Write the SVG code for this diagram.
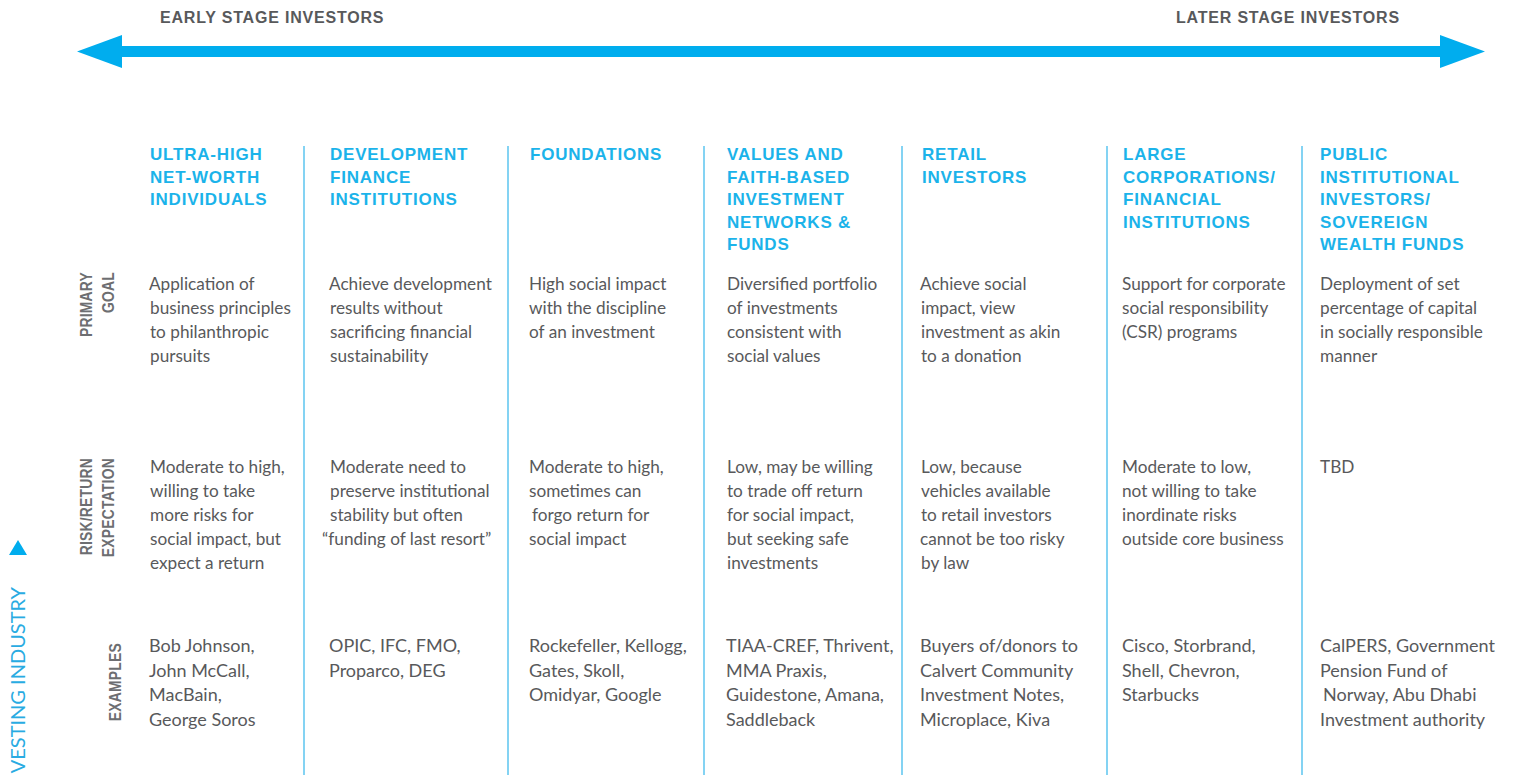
<svg xmlns="http://www.w3.org/2000/svg" width="1514" height="775" viewBox="0 0 1514 775">
<style>
.top{font-family:"Liberation Sans",Arial,sans-serif;font-weight:bold;font-size:16px;letter-spacing:0.8px;fill:#58595B}
.hdr{font-family:"Liberation Sans",Arial,sans-serif;font-weight:bold;font-size:17px;letter-spacing:0.8px;fill:#1BB3EA}
.body{font-family:Lato,"Open Sans",sans-serif;font-size:17.2px;fill:#58595B}
.ex{font-family:Lato,"Open Sans",sans-serif;font-size:18px;fill:#58595B}
.rowlbl{font-family:"Liberation Sans",Arial,sans-serif;font-weight:bold;font-size:16.5px;letter-spacing:0.3px;fill:#6D6E71}
.side{font-family:Lato,"Open Sans",sans-serif;font-size:20px;fill:#29ABE2}
.div{stroke:#5BC4EF;stroke-width:1.5}
</style>
<defs>
<marker id="head" viewBox="0 0 45 33" refX="0" refY="16.5" markerWidth="45" markerHeight="33" markerUnits="userSpaceOnUse" orient="auto-start-reverse">
<path d="M0,0 L45,16.5 L0,33 Z" fill="#00ADEE"/>
</marker>
</defs>
<rect width="1514" height="775" fill="#FFFFFF"/>

<g id="connectors">
<line x1="122" y1="51.5" x2="1440" y2="51.5" stroke="#00ADEE" stroke-width="11" marker-start="url(#head)" marker-end="url(#head)"/>
</g>

<g id="stage-labels">
<text class="top" x="160" y="23">EARLY STAGE INVESTORS</text>
<text class="top" x="1176" y="23">LATER STAGE INVESTORS</text>
</g>

<g id="dividers">
<line class="div" x1="304" y1="146" x2="304" y2="775"/>
<line class="div" x1="508" y1="146" x2="508" y2="775"/>
<line class="div" x1="704" y1="146" x2="704" y2="775"/>
<line class="div" x1="902" y1="146" x2="902" y2="775"/>
<line class="div" x1="1107" y1="146" x2="1107" y2="775"/>
<line class="div" x1="1302" y1="146" x2="1302" y2="775"/>
</g>

<g id="side-label">
<polygon points="18,540 27,555 9,555" fill="#00ADEE"/>
<text class="side" transform="translate(25,587) rotate(-90)" text-anchor="end">VESTING INDUSTRY</text>
</g>

<g id="row-labels">
<text class="rowlbl" transform="translate(92,272) rotate(-90) scale(0.84,1)" text-anchor="end">PRIMARY</text>
<text class="rowlbl" transform="translate(114,272) rotate(-90) scale(0.84,1)" text-anchor="end">GOAL</text>
<text class="rowlbl" transform="translate(92,458) rotate(-90) scale(0.84,1)" text-anchor="end">RISK/RETURN</text>
<text class="rowlbl" transform="translate(114,458) rotate(-90) scale(0.84,1)" text-anchor="end">EXPECTATION</text>
<text class="rowlbl" transform="translate(121,643) rotate(-90) scale(0.84,1)" text-anchor="end">EXAMPLES</text>
</g>

<g id="col-uhnwi">
<text class="hdr" x="150" y="160">ULTRA-HIGH</text>
<text class="hdr" x="150" y="182.5">NET-WORTH</text>
<text class="hdr" x="150" y="205">INDIVIDUALS</text>
<text class="body" x="149" y="290">Application of</text>
<text class="body" x="150" y="314">business principles</text>
<text class="body" x="150" y="338">to philanthropic</text>
<text class="body" x="150" y="362">pursuits</text>
<text class="body" x="150" y="473">Moderate to high,</text>
<text class="body" x="150" y="497">willing to take</text>
<text class="body" x="150" y="521">more risks for</text>
<text class="body" x="150" y="545">social impact, but</text>
<text class="body" x="150" y="569">expect a return</text>
<text class="ex" x="149" y="652">Bob Johnson,</text>
<text class="ex" x="149" y="676.5">John McCall,</text>
<text class="ex" x="149" y="701">MacBain,</text>
<text class="ex" x="149" y="725.5">George Soros</text>
</g>

<g id="col-dfi">
<text class="hdr" x="330" y="160">DEVELOPMENT</text>
<text class="hdr" x="330" y="182.5">FINANCE</text>
<text class="hdr" x="330" y="205">INSTITUTIONS</text>
<text class="body" x="329" y="290">Achieve development</text>
<text class="body" x="330" y="314">results without</text>
<text class="body" x="330" y="338">sacrificing financial</text>
<text class="body" x="330" y="362">sustainability</text>
<text class="body" x="330" y="473">Moderate need to</text>
<text class="body" x="330" y="497">preserve institutional</text>
<text class="body" x="330" y="521">stability but often</text>
<text class="body" x="322" y="545">“funding of last resort”</text>
<text class="ex" x="329" y="652">OPIC, IFC, FMO,</text>
<text class="ex" x="329" y="676.5">Proparco, DEG</text>
</g>

<g id="col-foundations">
<text class="hdr" x="530" y="160">FOUNDATIONS</text>
<text class="body" x="529" y="290">High social impact</text>
<text class="body" x="529" y="314">with the discipline</text>
<text class="body" x="529" y="338">of an investment</text>
<text class="body" x="529" y="473">Moderate to high,</text>
<text class="body" x="529" y="497">sometimes can</text>
<text class="body" x="532" y="521">forgo return for</text>
<text class="body" x="529" y="545">social impact</text>
<text class="ex" x="529" y="652">Rockefeller, Kellogg,</text>
<text class="ex" x="529" y="676.5">Gates, Skoll,</text>
<text class="ex" x="529" y="701">Omidyar, Google</text>
</g>

<g id="col-values">
<text class="hdr" x="727" y="160">VALUES AND</text>
<text class="hdr" x="727" y="182.5">FAITH-BASED</text>
<text class="hdr" x="727" y="205">INVESTMENT</text>
<text class="hdr" x="727" y="227.5">NETWORKS &amp;</text>
<text class="hdr" x="727" y="250">FUNDS</text>
<text class="body" x="727" y="290">Diversified portfolio</text>
<text class="body" x="727" y="314">of investments</text>
<text class="body" x="727" y="338">consistent with</text>
<text class="body" x="727" y="362">social values</text>
<text class="body" x="727" y="473">Low, may be willing</text>
<text class="body" x="727" y="497">to trade off return</text>
<text class="body" x="727" y="521">for social impact,</text>
<text class="body" x="727" y="545">but seeking safe</text>
<text class="body" x="727" y="569">investments</text>
<text class="ex" x="726" y="652">TIAA-CREF, Thrivent,</text>
<text class="ex" x="726" y="676.5">MMA Praxis,</text>
<text class="ex" x="726" y="701">Guidestone, Amana,</text>
<text class="ex" x="726" y="725.5">Saddleback</text>
</g>

<g id="col-retail">
<text class="hdr" x="922" y="160">RETAIL</text>
<text class="hdr" x="922" y="182.5">INVESTORS</text>
<text class="body" x="920" y="290">Achieve social</text>
<text class="body" x="921" y="314">impact, view</text>
<text class="body" x="921" y="338">investment as akin</text>
<text class="body" x="921" y="362">to a donation</text>
<text class="body" x="921" y="473">Low, because</text>
<text class="body" x="921" y="497">vehicles available</text>
<text class="body" x="921" y="521">to retail investors</text>
<text class="body" x="920" y="545">cannot be too risky</text>
<text class="body" x="921" y="569">by law</text>
<text class="ex" x="920" y="652">Buyers of/donors to</text>
<text class="ex" x="920" y="676.5">Calvert Community</text>
<text class="ex" x="920" y="701">Investment Notes,</text>
<text class="ex" x="920" y="725.5">Microplace, Kiva</text>
</g>

<g id="col-corporations">
<text class="hdr" x="1123" y="160">LARGE</text>
<text class="hdr" x="1123" y="182.5">CORPORATIONS/</text>
<text class="hdr" x="1123" y="205">FINANCIAL</text>
<text class="hdr" x="1123" y="227.5">INSTITUTIONS</text>
<text class="body" x="1122" y="290">Support for corporate</text>
<text class="body" x="1122" y="314">social responsibility</text>
<text class="body" x="1122" y="338">(CSR) programs</text>
<text class="body" x="1122" y="473">Moderate to low,</text>
<text class="body" x="1122" y="497">not willing to take</text>
<text class="body" x="1122" y="521">inordinate risks</text>
<text class="body" x="1122" y="545">outside core business</text>
<text class="ex" x="1122" y="652">Cisco, Storbrand,</text>
<text class="ex" x="1122" y="676.5">Shell, Chevron,</text>
<text class="ex" x="1122" y="701">Starbucks</text>
</g>

<g id="col-public">
<text class="hdr" x="1320" y="160">PUBLIC</text>
<text class="hdr" x="1320" y="182.5">INSTITUTIONAL</text>
<text class="hdr" x="1320" y="205">INVESTORS/</text>
<text class="hdr" x="1320" y="227.5">SOVEREIGN</text>
<text class="hdr" x="1320" y="250">WEALTH FUNDS</text>
<text class="body" x="1320" y="290">Deployment of set</text>
<text class="body" x="1320" y="314">percentage of capital</text>
<text class="body" x="1320" y="338">in socially responsible</text>
<text class="body" x="1320" y="362">manner</text>
<text class="body" x="1320" y="473">TBD</text>
<text class="ex" x="1320" y="652">CalPERS, Government</text>
<text class="ex" x="1320" y="676.5">Pension Fund of</text>
<text class="ex" x="1323" y="701">Norway, Abu Dhabi</text>
<text class="ex" x="1320" y="725.5">Investment authority</text>
</g>
</svg>
